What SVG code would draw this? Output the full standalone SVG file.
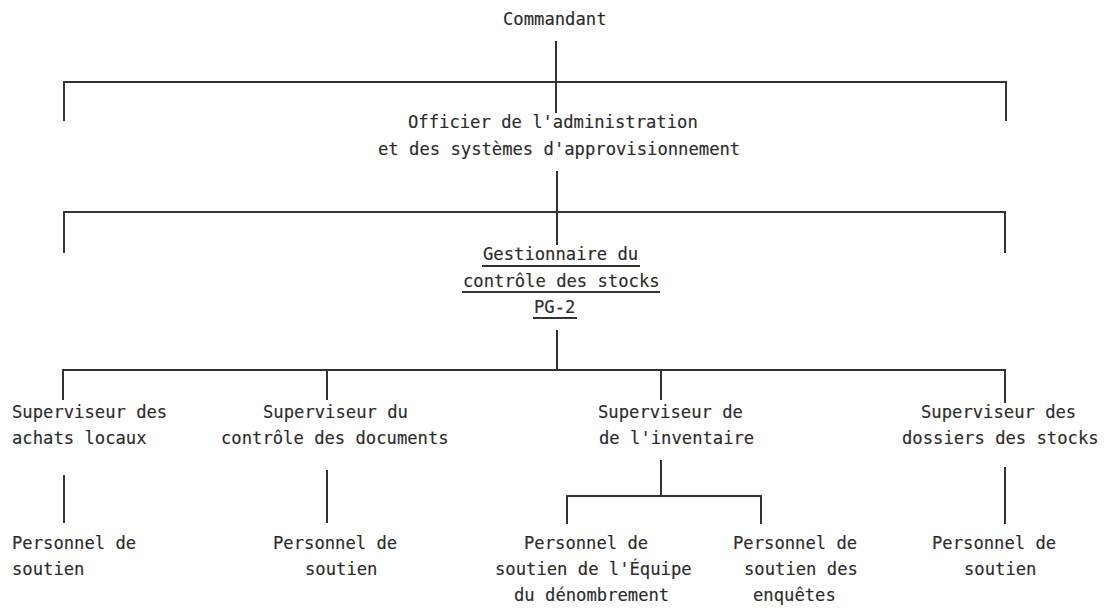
<svg xmlns="http://www.w3.org/2000/svg" width="1107" height="610" viewBox="0 0 1107 610">
  <style>
    .bg { fill: #ffffff; }
    .lbl { font-family: "DejaVu Sans Mono", "Liberation Mono", monospace; font-size: 17.2px; fill: #2b2b2b; stroke: #2b2b2b; stroke-width: 0.15px; }
    .ln { stroke: #333333; stroke-width: 2; fill: none; stroke-linecap: butt; }
    .ul { stroke: #333333; stroke-width: 2; }
  </style>
  <rect class="bg" x="0" y="0" width="1107" height="610"/>

  <!-- connectors -->
  <g id="connectors">
    <!-- Commandant to first bar -->
    <line class="ln" x1="556" y1="41" x2="556" y2="113"/>
    <polyline class="ln" points="64,121 64,82 1006,82 1006,121"/>
    <!-- Officier to second bar -->
    <line class="ln" x1="557" y1="171" x2="557" y2="245"/>
    <polyline class="ln" points="64,253 64,212 1005,212 1005,253"/>
    <!-- Gestionnaire to supervisors -->
    <line class="ln" x1="557" y1="330" x2="557" y2="370"/>
    <polyline class="ln" points="63,400 63,370 1005,370 1005,403"/>
    <line class="ln" x1="327" y1="370" x2="327" y2="400"/>
    <line class="ln" x1="661" y1="370" x2="661" y2="400"/>
    <!-- supervisors to support staff -->
    <line class="ln" x1="64" y1="475" x2="64" y2="523"/>
    <line class="ln" x1="327" y1="470" x2="327" y2="523"/>
    <line class="ln" x1="661" y1="460" x2="661" y2="496"/>
    <polyline class="ln" points="567,524 567,496 761,496 761,524"/>
    <line class="ln" x1="1005" y1="467" x2="1005" y2="524"/>
  </g>

  <g id="commandant">
    <text class="lbl" x="503" y="25">Commandant</text>
  </g>

  <g id="officier">
    <text class="lbl" x="408" y="128">Officier de l'administration</text>
    <text class="lbl" x="378" y="155">et des systèmes d'approvisionnement</text>
  </g>

  <g id="gestionnaire">
    <text class="lbl" x="483" y="260">Gestionnaire du</text>
    <line class="ul" x1="482" y1="266" x2="640" y2="266"/>
    <text class="lbl" x="463" y="287">contrôle des stocks</text>
    <line class="ul" x1="462" y1="292" x2="660" y2="292"/>
    <text class="lbl" x="534" y="313">PG-2</text>
    <line class="ul" x1="533" y1="318" x2="577" y2="318"/>
  </g>

  <g id="sup-achats">
    <text class="lbl" x="12" y="418">Superviseur des</text>
    <text class="lbl" x="12" y="444">achats locaux</text>
  </g>

  <g id="sup-documents">
    <text class="lbl" x="263" y="418">Superviseur du</text>
    <text class="lbl" x="221" y="444">contrôle des documents</text>
  </g>

  <g id="sup-inventaire">
    <text class="lbl" x="598" y="418">Superviseur de</text>
    <text class="lbl" x="599" y="444">de l'inventaire</text>
  </g>

  <g id="sup-dossiers">
    <text class="lbl" x="921" y="418">Superviseur des</text>
    <text class="lbl" x="902" y="444">dossiers des stocks</text>
  </g>

  <g id="pers-achats">
    <text class="lbl" x="12" y="549">Personnel de</text>
    <text class="lbl" x="12" y="575">soutien</text>
  </g>

  <g id="pers-documents">
    <text class="lbl" x="273" y="549">Personnel de</text>
    <text class="lbl" x="305" y="575">soutien</text>
  </g>

  <g id="pers-denombrement">
    <text class="lbl" x="524" y="549">Personnel de</text>
    <text class="lbl" x="495" y="575">soutien de l'Équipe</text>
    <text class="lbl" x="514" y="601">du dénombrement</text>
  </g>

  <g id="pers-enquetes">
    <text class="lbl" x="733" y="549">Personnel de</text>
    <text class="lbl" x="744" y="575">soutien des</text>
    <text class="lbl" x="753" y="601">enquêtes</text>
  </g>

  <g id="pers-dossiers">
    <text class="lbl" x="932" y="549">Personnel de</text>
    <text class="lbl" x="964" y="575">soutien</text>
  </g>
</svg>
